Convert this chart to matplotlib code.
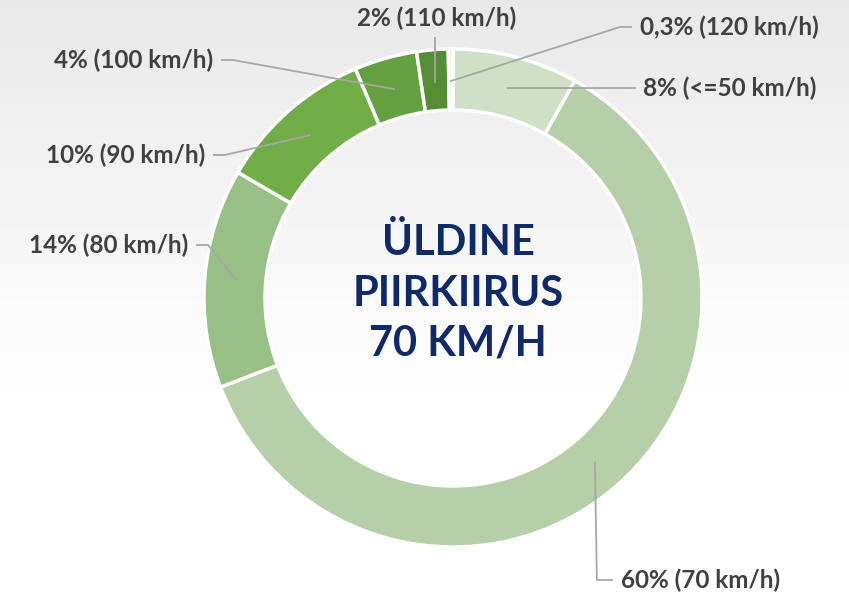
import numpy as np
import matplotlib.pyplot as plt

# andmed
shares = [8, 60, 14, 10, 4, 2, 0.3]
labels = ['8% (<=50 km/h)', '60% (70 km/h)', '14% (80 km/h)', '10% (90 km/h)',
          '4% (100 km/h)', '2% (110 km/h)', '0,3% (120 km/h)']
colors = ['#cfe0c6', '#b5cfa8', '#98bf86', '#70ad47', '#63a040', '#548d35', '#f2f6ee']

W, H = 849, 599
fig = plt.figure(figsize=(W / 100, H / 100), dpi=100)
ax = fig.add_axes([0, 0, 1, 1])
ax.axis('off')

# taust: ülevalt hall -> alt valge
grad = np.linspace(0, 1, 256).reshape(-1, 1)
grad = np.clip(grad / 0.65, 0, 1)
bg = np.dstack([0.915 + 0.085 * grad] * 3)
ax.imshow(bg, extent=[0, W, 0, H], aspect='auto', zorder=0)

cx, cy, R = 453, H - 298, 249
wedges, _ = ax.pie(shares, colors=colors, startangle=90, counterclock=False,
                   radius=R, center=(cx, cy),
                   wedgeprops=dict(width=61, edgecolor='white', linewidth=2.5))
ax.set_xlim(0, W)
ax.set_ylim(0, H)
ax.set_aspect('auto')

# sildid (teksti asukoht pikslites, joondus)
pos = [
    (643, 88, 'left'),
    (621, 580, 'left'),
    (188, 245, 'right'),
    (205, 155, 'right'),
    (213, 60, 'right'),
    (437, 18, 'center'),
    (640, 27, 'left'),
]
for w, lab, (tx, ty, ha) in zip(wedges, labels, pos):
    th = np.deg2rad((w.theta1 + w.theta2) / 2)
    r = R - 32
    axp, ayp = cx + r * np.cos(th), cy + r * np.sin(th)
    ty = H - ty
    if ha == 'left':
        xs, ys = [axp, tx - 20, tx - 9], [ayp, ty, ty]
    elif ha == 'right':
        xs, ys = [axp, tx + 20, tx + 9], [ayp, ty, ty]
    else:
        xs, ys = [axp, axp], [ayp, ty - 20]
    if lab.startswith('60%'):
        xs, ys = [axp, axp + 2, tx - 9], [ayp, ty, ty]
    if lab.startswith('8%'):
        xs, ys = [axp, tx - 8], [ayp, ty]
    ax.plot(xs, ys, color='#a6a6a6', lw=1.3, zorder=3)
    ax.text(tx, ty, lab, ha=ha, va='center', fontsize=17.5, fontweight='bold',
            family=['Lato', 'DejaVu Sans'], color='#404040', zorder=4)

ax.text(458, H - 293, 'ÜLDINE\nPIIRKIIRUS\n70 KM/H', ha='center', va='center',
        fontsize=30, fontweight='bold', family=['Lato', 'DejaVu Sans'],
        color='#0e2a6b', linespacing=1.4, zorder=4)

fig.savefig('out.png', dpi=100)
